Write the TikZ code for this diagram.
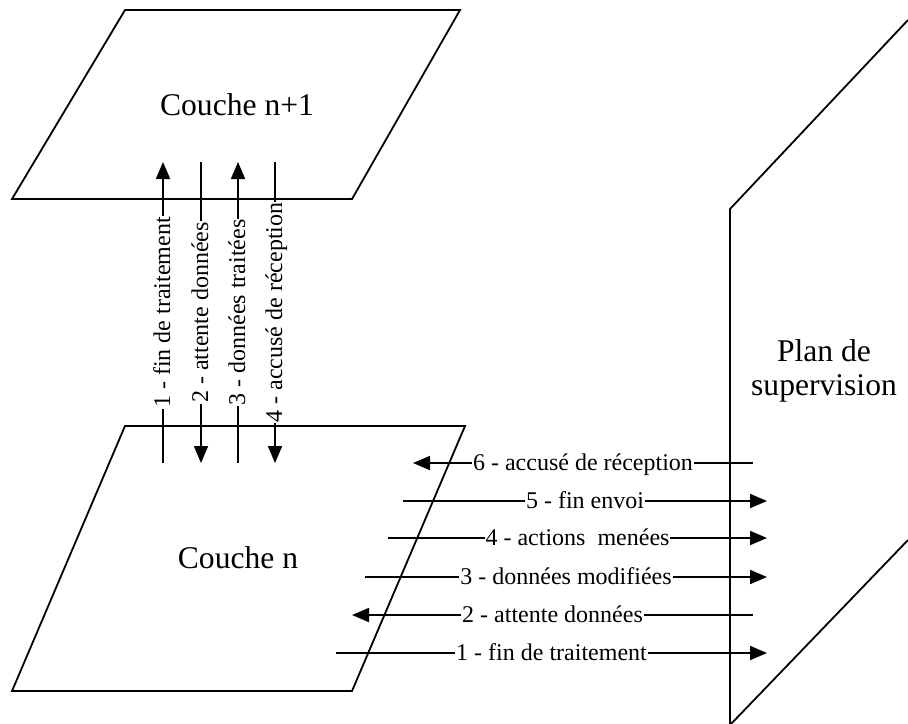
\documentclass[tikz,border=0pt]{standalone}
\usepackage{fontspec}
\setmainfont{Liberation Serif}
\usetikzlibrary{arrows.meta}

\begin{document}
\begin{tikzpicture}[
    x=0.5pt, y=-0.5pt,
    plane/.style={draw, line width=0.9pt, line join=miter},
    planelabel/.style={font=\fontsize{15.8}{17}\selectfont, align=center},
    msg/.style={draw, line width=0.9pt},
    msgtip/.style={msg, -{Triangle[length=8.5pt, width=7pt]}},
    msglabel/.style={
        fill=white, inner xsep=0.5pt, inner ysep=0pt,
        text height=0.8em, text depth=0.1em,
        font=\fontsize{12}{14}\selectfont
    }
]
    \clip (0,0) rectangle (908,723);

    % the two layers and the supervision plane
    \draw[plane] (125,10) -- (460,10) -- (352,199) -- (12,199) -- cycle;
    \draw[plane] (125,426) -- (465,426) -- (352,691) -- (12,691) -- cycle;
    \draw[plane] (908,20) -- (730,209) -- (730,725) -- (908,540);

    \node[planelabel, anchor=base] (upper) at (237,115) {Couche n+1};
    \node[planelabel, anchor=base] (lower) at (238,568) {Couche n};
    \node[planelabel, anchor=base] (superv) at (824,395) {Plan de\\supervision};

    % exchanges between layer n and layer n+1
    \draw[msgtip] (163,463) -- node[msglabel, rotate=90] (up1) {1 - fin de traitement} (163,162);
    \draw[msgtip] (201,162) -- node[msglabel, rotate=90] (down2) {2 - attente données} (201,463);
    \draw[msgtip] (238,463) -- node[msglabel, rotate=90] (up3) {3 - données traitées} (238,162);
    \draw[msgtip] (275,162) -- node[msglabel, rotate=90] (down4) {4 - accusé de réception} (275,463);

    % exchanges between layer n and the supervision plane
    \draw[msgtip] (753,463) -- node[msglabel] (back6) {6 - accusé de réception} (413,463);
    \draw[msgtip] (403,501) -- node[msglabel] (out5) {5 - fin envoi} (767,501);
    \draw[msgtip] (388,538) -- node[msglabel] (out4) {4 - actions\ \ menées} (767,538);
    \draw[msgtip] (365,577) -- node[msglabel] (out3) {3 - données modifiées} (767,577);
    \draw[msgtip] (753,615) -- node[msglabel] (back2) {2 - attente données} (352,615);
    \draw[msgtip] (336,653) -- node[msglabel] (out1) {1 - fin de traitement} (767,653);
\end{tikzpicture}
\end{document}
